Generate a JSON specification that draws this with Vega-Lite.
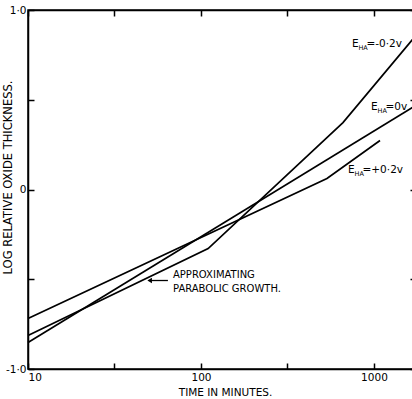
{
  "$schema": "https://vega.github.io/schema/vega-lite/v6.json",
  "width": 388,
  "height": 359,
  "autosize": "none",
  "padding": {"left": 28, "top": 10, "right": 0, "bottom": 30},
  "background": "white",
  "config": {
    "view": {"stroke": "black", "strokeWidth": 1.5},
    "font": "DejaVu Sans",
    "axis": {
      "grid": false,
      "domainColor": "black",
      "domainWidth": 1.5,
      "tickColor": "black",
      "tickWidth": 1.5,
      "tickSize": -6,
      "labelColor": "black",
      "labelFont": "DejaVu Sans",
      "labelFontSize": 10.5,
      "titleColor": "black",
      "titleFont": "DejaVu Sans",
      "titleFontWeight": "normal"
    }
  },
  "datasets": {
    "curves": [
      {"series": "-0.2v", "t": 10, "v": -0.813},
      {"series": "-0.2v", "t": 110, "v": -0.329},
      {"series": "-0.2v", "t": 662, "v": 0.373},
      {"series": "-0.2v", "t": 1700, "v": 0.844},
      {"series": "0v", "t": 10, "v": -0.852},
      {"series": "0v", "t": 1700, "v": 0.462},
      {"series": "+0.2v", "t": 10, "v": -0.719},
      {"series": "+0.2v", "t": 535, "v": 0.061},
      {"series": "+0.2v", "t": 1084, "v": 0.273}
    ],
    "potentials": [
      {"t": 746, "v": 0.813, "rest": "=-0·2v"},
      {"t": 962, "v": 0.457, "rest": "=0v"},
      {"t": 708, "v": 0.106, "rest": "=+0·2v"}
    ],
    "note": [
      {"t": 68.9, "v": -0.474, "text": "APPROXIMATING"},
      {"t": 68.9, "v": -0.552, "text": "PARABOLIC GROWTH."}
    ],
    "arrow": [
      {"t": 50.5, "t2": 64.4, "v": -0.507}
    ]
  },
  "resolve": {"axis": {"x": "independent", "y": "independent"}},
  "layer": [
    {
      "data": {"name": "curves"},
      "mark": {"type": "line", "color": "black", "strokeWidth": 1.7},
      "encoding": {
        "x": {
          "field": "t",
          "type": "quantitative",
          "scale": {"type": "log", "domain": [10, 1750], "nice": false},
          "axis": {
            "orient": "bottom",
            "values": [10, 31.6228, 100, 316.228, 1000],
            "labelExpr": "indexof([10, 100, 1000], datum.value) >= 0 ? format(datum.value, 'd') : ''",
            "labelFlush": true,
            "labelPadding": 9,
            "title": "TIME IN MINUTES.",
            "titleFontSize": 10.5,
            "titleX": 197,
            "titleY": 23,
            "titleBaseline": "middle"
          }
        },
        "y": {
          "field": "v",
          "type": "quantitative",
          "scale": {"domain": [-1, 1], "nice": false, "zero": false},
          "axis": {
            "orient": "left",
            "values": [-1, -0.5, 0, 0.5, 1],
            "labelExpr": "datum.value == 1 ? '1·0' : datum.value == 0 ? '0' : datum.value == -1 ? '-1·0' : ''",
            "labelPadding": 8,
            "title": "LOG RELATIVE OXIDE THICKNESS.",
            "titleFontSize": 11.5,
            "titleX": -20,
            "titleY": 167,
            "titleAngle": 270,
            "titleAlign": "center",
            "titleBaseline": "middle"
          }
        },
        "detail": {"field": "series"}
      }
    },
    {
      "data": {"name": "potentials"},
      "mark": {"type": "text", "align": "left", "baseline": "middle", "fontSize": 10.5, "color": "black"},
      "encoding": {
        "x": {
          "field": "t",
          "type": "quantitative",
          "axis": {
            "orient": "top",
            "values": [10, 31.6228, 100, 316.228, 1000],
            "labels": false,
            "title": null
          }
        },
        "y": {
          "field": "v",
          "type": "quantitative",
          "axis": {
            "orient": "right",
            "values": [-1, -0.5, 0, 0.5, 1],
            "labels": false,
            "title": null
          }
        },
        "text": {"value": "E"}
      }
    },
    {
      "data": {"name": "potentials"},
      "mark": {"type": "text", "align": "left", "baseline": "middle", "fontSize": 6.5, "dx": 6.5, "dy": 4, "color": "black"},
      "encoding": {
        "x": {"field": "t", "type": "quantitative", "axis": null},
        "y": {"field": "v", "type": "quantitative", "axis": null},
        "text": {"value": "HA"}
      }
    },
    {
      "data": {"name": "potentials"},
      "mark": {"type": "text", "align": "left", "baseline": "middle", "fontSize": 10.5, "dx": 14.5, "color": "black"},
      "encoding": {
        "x": {"field": "t", "type": "quantitative", "axis": null},
        "y": {"field": "v", "type": "quantitative", "axis": null},
        "text": {"field": "rest"}
      }
    },
    {
      "data": {"name": "note"},
      "mark": {"type": "text", "align": "left", "baseline": "middle", "fontSize": 10, "color": "black"},
      "encoding": {
        "x": {"field": "t", "type": "quantitative", "axis": null},
        "y": {"field": "v", "type": "quantitative", "axis": null},
        "text": {"field": "text"}
      }
    },
    {
      "data": {"name": "arrow"},
      "mark": {"type": "rule", "color": "black", "strokeWidth": 1.3},
      "encoding": {
        "x": {"field": "t", "type": "quantitative", "axis": null},
        "x2": {"field": "t2"},
        "y": {"field": "v", "type": "quantitative", "axis": null}
      }
    },
    {
      "data": {"name": "arrow"},
      "mark": {"type": "point", "shape": "triangle-left", "filled": true, "color": "black", "size": 28, "opacity": 1},
      "encoding": {
        "x": {"field": "t", "type": "quantitative", "axis": null},
        "y": {"field": "v", "type": "quantitative", "axis": null}
      }
    }
  ]
}
